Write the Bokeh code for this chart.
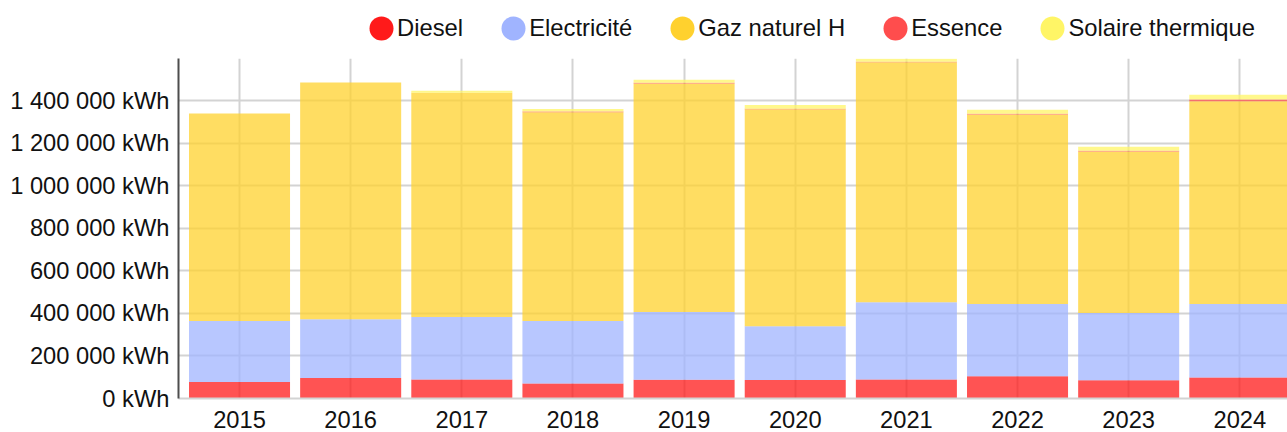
from bokeh.plotting import figure
from bokeh.layouts import column
from bokeh.models import ColumnDataSource, Range1d, FixedTicker, Legend, LegendItem
from bokeh.embed import file_html
from bokeh.resources import INLINE

# ---- data (kWh) ----
years = ["2015", "2016", "2017", "2018", "2019", "2020", "2021", "2022", "2023", "2024"]
diesel = [77000, 96000, 89000, 70000, 88000, 87000, 89000, 105000, 86000, 99000]
electricite = [287000, 277000, 294000, 294000, 318000, 252000, 363000, 339000, 316000, 345000]
gaz_naturel = [976000, 1112000, 1054000, 981000, 1075000, 1020000, 1128000, 891000, 759000, 953000]
essence = [0, 0, 0, 4000, 3000, 3000, 3000, 3000, 3000, 8000]
solaire = [0, 0, 9000, 12000, 14000, 17000, 14000, 19000, 19000, 23000]

series_names = ["Diesel", "Electricité", "Gaz naturel H", "Essence", "Solaire thermique"]
series_keys = ["diesel", "electricite", "gaz", "essence", "solaire"]
series_colors = ["#ff1a1a", "#a0b4ff", "#ffd12e", "#ff4d4d", "#fff566"]

y_ticks = [0, 200000, 400000, 600000, 800000, 1000000, 1200000, 1400000]
y_tick_labels = ["0 kWh", "200 000 kWh", "400 000 kWh", "600 000 kWh", "800 000 kWh",
                 "1 000 000 kWh", "1 200 000 kWh", "1 400 000 kWh"]

FONT = "Liberation Sans"
NAN = float("nan")

src = ColumnDataSource(dict(
    x=list(range(len(years))),
    diesel=diesel, electricite=electricite, gaz=gaz_naturel,
    essence=essence, solaire=solaire,
))

# ---- legend strip ----
leg = figure(width=1287, height=58, x_range=Range1d(0, 1), y_range=Range1d(0, 1),
             x_axis_type=None, y_axis_type=None, output_backend="svg", toolbar_location=None,
             min_border=0)
leg.outline_line_color = None
leg.grid.visible = False
items = []
for name, col in zip(series_names, series_colors):
    r = leg.ellipse(x=[NAN], y=[NAN], width=10, height=10,
                    width_units="screen", height_units="screen",
                    fill_color=col, line_color=None)
    items.append(LegendItem(label=name, renderers=[r]))
legend = Legend(items=items, orientation="horizontal", location=(188, 15),
                glyph_width=30, glyph_height=30, label_standoff=1, spacing=35,
                padding=0, margin=0, border_line_color=None, background_fill_alpha=0,
                label_text_font=FONT, label_text_font_size="23.8px", label_text_color="#111111")
leg.add_layout(legend, "center")

# ---- chart ----
p = figure(width=1287, height=374,
           x_range=Range1d(-0.549, 9.429), y_range=Range1d(0, 1598000),
           output_backend="svg", toolbar_location=None,
           min_border_left=178, min_border_right=0, min_border_top=0, min_border_bottom=34)
p.outline_line_color = None

p.vbar_stack(series_keys, x="x", width=0.909, source=src,
             fill_color=series_colors, fill_alpha=0.75, line_color=None)

p.xaxis.ticker = FixedTicker(ticks=list(range(len(years))))
p.xaxis.major_label_overrides = {i: y for i, y in enumerate(years)}
p.yaxis.ticker = FixedTicker(ticks=y_ticks)
p.yaxis.major_label_overrides = dict(zip(y_ticks, y_tick_labels))

for ax in (p.xaxis, p.yaxis):
    ax.major_tick_line_color = None
    ax.minor_tick_line_color = None
    ax.major_label_text_font = FONT
    ax.major_label_text_font_size = "23.7px"
    ax.major_label_text_color = "#111111"

p.xaxis.axis_line_color = "#d3d3d3"
p.xaxis.axis_line_width = 2
p.xaxis.major_label_standoff = 6
p.yaxis.axis_line_color = "#4d4d4d"
p.yaxis.axis_line_width = 2
p.yaxis.major_label_standoff = 3

p.xgrid.grid_line_color = "#d3d3d3"
p.xgrid.grid_line_width = 2
p.ygrid.grid_line_color = "#d3d3d3"
p.ygrid.grid_line_width = 2

layout = column(leg, p, spacing=0)
open("out.html", "w").write(file_html(layout, INLINE))
